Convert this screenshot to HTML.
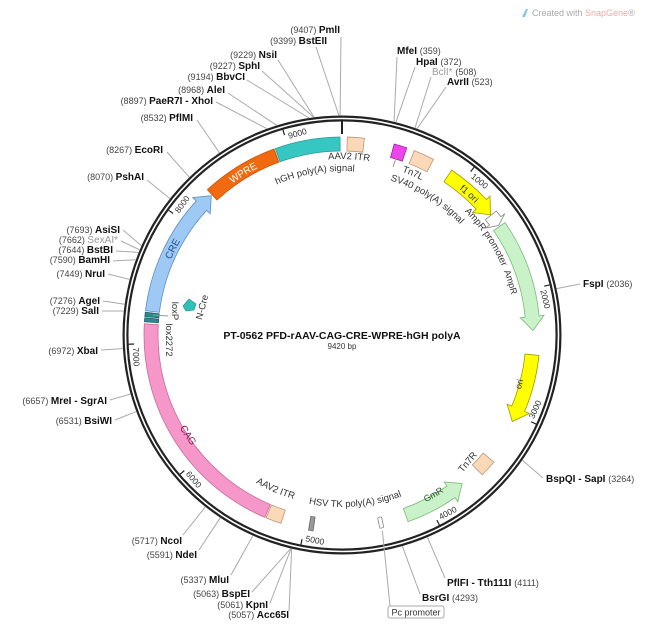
<!DOCTYPE html>
<html><head><meta charset="utf-8">
<style>
html,body{margin:0;padding:0;background:#fff;}
svg{display:block;font-family:"Liberation Sans",sans-serif;}
.n{font-size:9px;fill:#444;}
.b{font-size:10px;font-weight:bold;fill:#111;}
.g{fill:#999;}
.fl{font-size:9.5px;fill:#333;}
.ln{stroke:#aaa;stroke-width:1;fill:none;}
</style></head>
<body>
<svg id="s" width="650" height="627" viewBox="0 0 650 627" xmlns="http://www.w3.org/2000/svg">
<g id="bg"></g>
<text x="342" y="339" text-anchor="middle" style="font-size:10.5px;font-weight:bold;fill:#111">PT-0562   PFD-rAAV-CAG-CRE-WPRE-hGH polyA</text>
<text x="342" y="349" text-anchor="middle" style="font-size:8px;fill:#333">9420 bp</text>
<path d="M522 17 l4 -8 l2 0 l-3 8z" fill="#7fc6e6"/>
<text x="532" y="16" style="font-size:9px;fill:#aaa">Created with <tspan fill="#eaa">SnapGene</tspan>®</text>
</svg>
<script>
var NS="http://www.w3.org/2000/svg",S=document.getElementById('s'),G=document.getElementById('bg');
var cx=342,cy=335,T=9420,idn=0;
function A(bp){return bp/T*2*Math.PI;}
function P(bp,r){var a=A(bp);return [cx+r*Math.sin(a),cy-r*Math.cos(a)];}
function el(t,at,par,txt){var e=document.createElementNS(NS,t);for(var k in at)e.setAttribute(k,at[k]);if(txt!=null)e.textContent=txt;(par||S).appendChild(e);return e;}
function arc(r,b1,b2){var s=P(b1,r),e=P(b2,r);var big=Math.abs(b2-b1)/T>0.5?1:0;var sw=b2>b1?1:0;return "M"+s[0].toFixed(2)+" "+s[1].toFixed(2)+" A"+r+" "+r+" 0 "+big+" "+sw+" "+e[0].toFixed(2)+" "+e[1].toFixed(2);}
var ri=184,ro=198;
function band(b1,b2,fill,stroke){var e=P(b2,ri);var d=arc(ro,b1,b2)+" L"+e[0]+" "+e[1]+" "+arc(ri,b2,b1).replace(/^M[^A]*/,"")+"Z";el('path',{d:d,fill:fill,stroke:stroke,'stroke-width':0.8},G);}
function arrow(b1,b2,fill,stroke,h){
 var dir=b2>b1?1:-1;var hb=b2-dir*h;var d=arc(ro,b1,hb);
 var p1=P(hb,ro+5),tip=P(b2,(ri+ro)/2),p2=P(hb,ri-5),p3=P(hb,ri);
 d+=" L"+p1+" L"+tip+" L"+p2+" L"+p3+" "+arc(ri,hb,b1).replace(/^M[^A]*/,"")+"Z";
 el('path',{d:d.replace(/,/g," "),fill:fill,stroke:stroke,'stroke-width':0.8},G);}
function tlab(txt,bp,r,cls,style){var mid=bp/T*360;var flip=(mid%360)>90&&(mid%360)<270;var id='p'+(idn++);
 var d=flip?arc(r,bp+2500,bp-2500):arc(r,bp-2500,bp+2500);
 el('path',{id:id,d:d,fill:'none'},G);
 var t=el('text',{'class':cls||'fl',style:style||''},S);var tp=el('textPath',{href:'#'+id,startOffset:'50%','text-anchor':'middle'},t,txt);tp.setAttributeNS("http://www.w3.org/1999/xlink","xlink:href","#"+id);}
el('circle',{cx:cx,cy:cy,r:216.5,fill:'none',stroke:'#222','stroke-width':6},G);
el('circle',{cx:cx,cy:cy,r:216.5,fill:'none',stroke:'#fff','stroke-width':1.6},G);
el('line',{x1:cx,y1:cy-214,x2:cx,y2:cy-201,stroke:'#222','stroke-width':2},G);
for(var k=1;k<=9;k++){var b=k*1000;var a=P(b,213.5),c=P(b,208);el('line',{x1:a[0],y1:a[1],x2:c[0],y2:c[1],stroke:'#222','stroke-width':1.2},G);
 var deg=b/T*360;var rot=(deg>90&&deg<270)?deg-180:deg;
 var lp=P(b+ (deg>90&&deg<270? -95:95) ,203.5);
 el('text',{x:lp[0],y:lp[1],transform:'rotate('+rot+' '+lp[0]+' '+lp[1]+')','text-anchor':'middle','dominant-baseline':(deg>90&&deg<270)?'hanging':'auto',style:'font-size:8.5px;fill:#333'},S,String(b));}
band(40,170,'#fbd9b8','#b89676');
band(8905,9405,'#36c7c2','#2a9a96');
band(8300,8895,'#f26a10','#c85000');
arrow(7250,8290,'#9ec9f5','#5d8fc4',110);
band(7205,7238,'#2e8890','#1f6067');
band(7165,7195,'#2e8890','#1f6067');
band(5310,7150,'#f597c8','#c86a9c');
band(5180,5300,'#fbd9b8','#b89676');
band(4930,4965,'#999','#666');
band(400,500,'#ee44ee','#a020a0');
band(560,720,'#fbd9b8','#b89676');
arrow(880,1335,'#ffff00','#a09a00',110);
arrow(1340,1440,'#ffffff','#888',45);
arrow(1450,2320,'#c9f2c9','#7cb87c',110);
arrow(2510,3060,'#ffff00','#a09a00',110);
band(3400,3530,'#fbd9b8','#b89676');
arrow(4200,3690,'#c9f2c9','#7cb87c',110);
(function(){var a=P(4405,192);el('rect',{x:a[0]-2,y:a[1]-6,width:4,height:11,rx:1,fill:'#fff',stroke:'#888','stroke-width':0.8,transform:'rotate(-12 '+a[0]+' '+a[1]+')'},G);})();
el('path',{d:'M183 306 l6 -7 l7 5 l-2 6 l-8 1z',fill:'#2ec0bb',stroke:'#1f8c88','stroke-width':0.6},G);
el('line',{x1:396,y1:158,x2:393,y2:167,stroke:'#999'},G);
tlab('AAV2 ITR',60,176);
tlab('hGH poly(A) signal',9170,164);
tlab('Tn7L',620,174);
tlab('SV40 poly(A) signal',840,162);
tlab('AmpR promoter',1460,174);
tlab('WPRE',8600,187,'fl','fill:#fff;font-size:10px');
tlab('CRE',7770,187,'fl','fill:#1f4e8c;font-size:10px');
tlab('f1 ori',1100,187,'fl','fill:#333;font-size:9.5px');
tlab('AmpR',1900,174,'fl','font-size:9px');
tlab('ori',2760,187,'fl','font-size:9px');
tlab('CAG',6200,187,'fl','fill:#8a1c55;font-size:10px');
tlab('GmR',3930,187,'fl','fill:#225522;font-size:9px');
tlab('AAV2 ITR',5320,171);
tlab('HSV TK poly(A) signal',4590,172);
el('text',{x:470,y:464,transform:'rotate(-50 470 464)','class':'fl','text-anchor':'middle'},S,'Tn7R');
el('text',{x:172,y:311,transform:'rotate(90 172 311)','class':'fl','text-anchor':'middle'},S,'loxP');
el('line',{x1:153,y1:315,x2:168,y2:316,stroke:'#999'},G);
el('text',{x:166,y:340,transform:'rotate(90 166 340)','class':'fl','text-anchor':'middle'},S,'lox2272');
el('text',{x:205,y:308,transform:'rotate(-75 205 308)','class':'fl','text-anchor':'middle'},S,'N-Cre');
var L=[
[9407,'PmlI',9407,340,33,'e',341,37],
[9399,'BstEII',9399,327,44,'e',316,47],
[9229,'NsiI',9229,277,58,'e',278,60],
[9227,'SphI',9227,260,69,'e',262,71],
[9194,'BbvCI',9194,245,80,'e',247,80],
[8968,'AleI',8968,225,93,'e',228,93],
[8897,'PaeR7I - XhoI',8897,213,104,'e',216,102],
[8532,'PflMI',8532,193,121,'e',197,120],
[8267,'EcoRI',8267,163,153,'e',167,152],
[8070,'PshAI',8070,144,180,'e',147,180],
[7693,'AsiSI',7693,120,233,'e',123,230],
[7662,'SexAI*',7662,118,243,'e',121,241,1],
[7644,'BstBI',7644,113,253,'e',116,251],
[7590,'BamHI',7590,110,263,'e',113,261],
[7449,'NruI',7449,105,277,'e',108,274],
[7276,'AgeI',7276,100,304,'e',103,301],
[7229,'SalI',7229,99,314,'e',102,311],
[6972,'XbaI',6972,98,354,'e',101,350],
[6657,'MreI - SgrAI',6657,107,404,'e',110,400],
[6531,'BsiWI',6531,112,424,'e',115,420],
[5717,'NcoI',5717,182,544,'e',183,535],
[5591,'NdeI',5591,197,558,'e',199,550],
[5337,'MluI',5337,229,583,'e',231,575],
[5063,'BspEI',5063,250,597,'e',252,592],
[5061,'KpnI',5061,268,608,'e',270,603],
[5057,'Acc65I',5057,289,618,'e',289,611],
[359,'MfeI',359,397,54,'s',397,57],
[372,'HpaI',372,416,65,'s',415,67],
[508,'BclI*',508,432,75,'s',431,77,1],
[523,'AvrII',523,447,85,'s',446,87],
[2036,'FspI',2036,583,287,'s',580,284],
[3264,'BspQI - SapI',3264,546,482,'s',543,478],
[4111,'PflFI - Tth111I',4111,447,586,'s',445,578],
[4293,'BsrGI',4293,422,601,'s',420,594]
];
L.forEach(function(s){var c=P(s[2],219.5);el('line',{x1:c[0],y1:c[1],x2:s[6],y2:s[7],'class':'ln'},G);
 var t=el('text',{x:s[3],y:s[4],'text-anchor':s[5]=='e'?'end':'start'},S);
 var nm='b'+(s[8]?' g':''),nu='n';
 if(s[5]=='e'){el('tspan',{'class':nu},t,'('+s[0]+')  ');el('tspan',{'class':nm,style:s[8]?'font-weight:normal;fill:#999':''},t,s[1]);}
 else{el('tspan',{'class':nm,style:s[8]?'font-weight:normal;fill:#999':''},t,s[1]+'  ');el('tspan',{'class':nu},t,'('+s[0]+')');}
});
(function(){var c=P(4405,200);el('line',{x1:c[0],y1:c[1],x2:390,y2:606,'class':'ln'},G);
el('rect',{x:388,y:606,width:56,height:12,rx:2,fill:'#fff',stroke:'#aaa'},S);
el('text',{x:416,y:615.5,'text-anchor':'middle',style:'font-size:9px;fill:#333'},S,'Pc promoter');})();
</script>
</body></html>
